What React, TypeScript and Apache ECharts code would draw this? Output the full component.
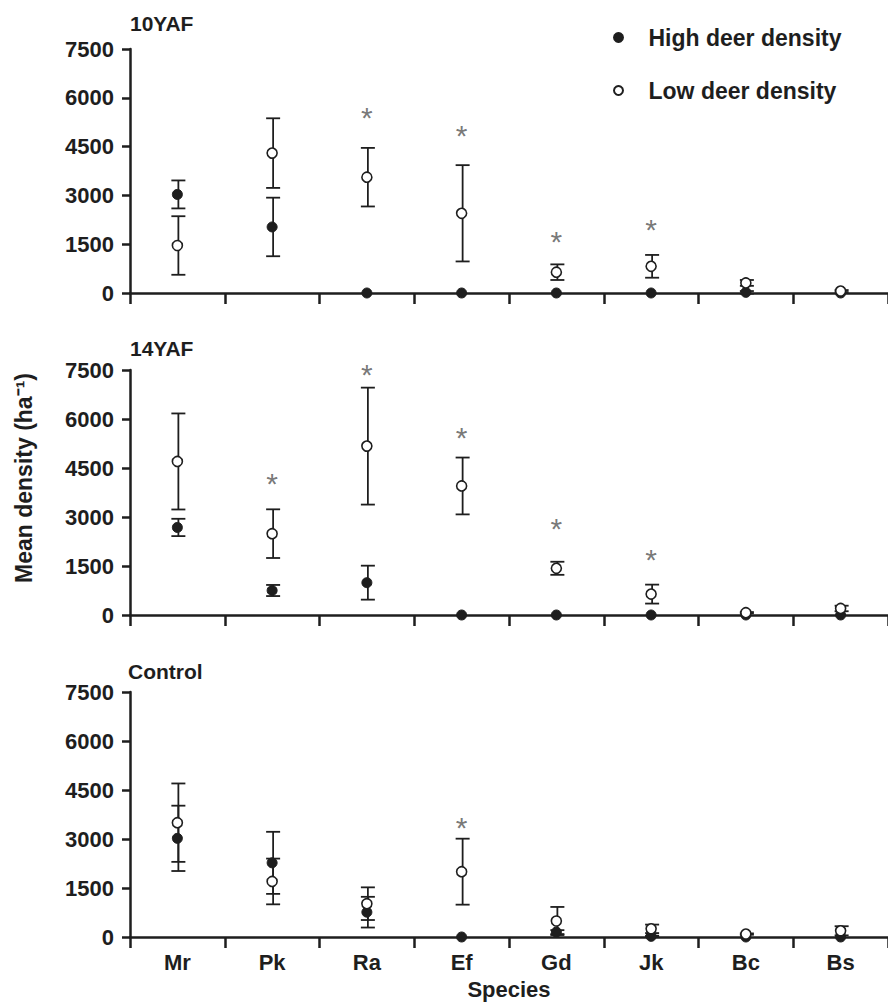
import React, { useEffect, useRef } from 'react';
import * as echarts from 'echarts';

const categories = ['Mr', 'Pk', 'Ra', 'Ef', 'Gd', 'Jk', 'Bc', 'Bs'];
const panelTitles = ['10YAF', '14YAF', 'Control'];
const yMin = 0;
const yMax = 7500;
const yInterval = 1500;

// 10 years after fencing
const yaf10High = [3030, 2030, 0, 0, 0, 0, 20, 0];
const yaf10HighErr = [430, 900, 0, 0, 0, 0, 40, 0];
const yaf10Low = [1460, 4300, 3560, 2450, 640, 820, 310, 60];
const yaf10LowErr = [900, 1070, 900, 1480, 240, 350, 90, 30];
const yaf10Star = [null, null, 5550, 5000, 1750, 2120, null, null];

// 14 years after fencing
const yaf14High = [2680, 750, 990, 0, 0, 0, 0, 0];
const yaf14HighErr = [265, 170, 520, 0, 0, 0, 0, 0];
const yaf14Low = [4700, 2490, 5170, 3950, 1430, 640, 70, 200];
const yaf14LowErr = [1470, 745, 1790, 870, 200, 290, 20, 85];
const yaf14Star = [null, 4180, 7530, 5580, 2800, 1860, null, null];

// Control
const controlHigh = [3020, 2270, 760, 0, 150, 20, 0, 0];
const controlHighErr = [1000, 950, 470, 0, 60, 20, 0, 0];
const controlLow = [3500, 1700, 1020, 2000, 490, 250, 90, 190];
const controlLowErr = [1200, 700, 500, 1010, 430, 130, 20, 140];
const controlStar = [null, null, null, 3500, null, null, null, null];

const highSeries = [yaf10High, yaf14High, controlHigh];
const highErrSeries = [yaf10HighErr, yaf14HighErr, controlHighErr];
const lowSeries = [yaf10Low, yaf14Low, controlLow];
const lowErrSeries = [yaf10LowErr, yaf14LowErr, controlLowErr];
const starSeries = [yaf10Star, yaf14Star, controlStar];

const FONT = '"Liberation Sans", Arial, Helvetica, sans-serif';
const INK = '#1e1e1e';

export default function App() {
  const ref = useRef<HTMLDivElement>(null);

  useEffect(() => {
    if (!ref.current) return;
    const chart = echarts.init(ref.current, undefined, { renderer: 'svg' });

    const gridTops = [49, 370, 692];
    const gridHeights = [244, 245, 245];

    const grids = gridTops.map((t, i) => ({
      left: 130,
      top: t,
      width: 766,
      height: gridHeights[i],
      containLabel: false,
    }));

    const xAxes = gridTops.map((_, i) => ({
      type: 'category',
      gridIndex: i,
      data: categories,
      boundaryGap: true,
      axisLine: { show: true, lineStyle: { color: INK, width: 2.5 } },
      axisTick: { show: true, length: 11, inside: false, lineStyle: { color: INK, width: 2.5 } },
      axisLabel: {
        show: i === 2,
        margin: 14,
        fontSize: 22,
        fontWeight: 'bold',
        fontFamily: FONT,
        color: INK,
      },
      splitLine: { show: false },
      name: i === 2 ? 'Species' : '',
      nameLocation: 'middle',
      nameGap: 41,
      nameTextStyle: { fontSize: 22, fontWeight: 'bold', fontFamily: FONT, color: INK },
    }));

    const yAxes = gridTops.map((_, i) => ({
      type: 'value',
      gridIndex: i,
      min: yMin,
      max: yMax,
      interval: yInterval,
      axisLine: { show: true, lineStyle: { color: INK, width: 2.5 } },
      axisTick: { show: true, length: 8, lineStyle: { color: INK, width: 2.5 } },
      axisLabel: {
        margin: 16,
        fontSize: 22,
        fontWeight: 'bold',
        fontFamily: FONT,
        color: INK,
        formatter: (v: number) => String(v),
      },
      splitLine: { show: false },
    }));

    const series: any[] = [];
    for (let i = 0; i < 3; i++) {
      const errData: number[][] = [];
      categories.forEach((_, k) => {
        const h = highSeries[i][k];
        const he = highErrSeries[i][k];
        if (he > 0) errData.push([k, h - he, h + he]);
        const l = lowSeries[i][k];
        const le = lowErrSeries[i][k];
        if (le > 0) errData.push([k, l - le, l + le]);
      });
      series.push({
        type: 'custom',
        name: 'err' + i,
        xAxisIndex: i,
        yAxisIndex: i,
        silent: true,
        z: 2,
        encode: { x: 0, y: [1, 2] },
        data: errData,
        renderItem: (params: any, api: any) => {
          const lo = api.coord([api.value(0), api.value(1)]);
          const hi = api.coord([api.value(0), api.value(2)]);
          const x = hi[0] + 1;
          const hw = 7;
          const st = { stroke: INK, lineWidth: 1.8 };
          return {
            type: 'group',
            children: [
              { type: 'line', shape: { x1: x, y1: hi[1], x2: x, y2: lo[1] }, style: st },
              { type: 'line', shape: { x1: x - hw, y1: hi[1], x2: x + hw, y2: hi[1] }, style: st },
              { type: 'line', shape: { x1: x - hw, y1: lo[1], x2: x + hw, y2: lo[1] }, style: st },
            ],
          };
        },
      });
      series.push({
        type: 'scatter',
        name: 'High deer density',
        xAxisIndex: i,
        yAxisIndex: i,
        z: 3,
        clip: false,
        symbol: 'circle',
        symbolSize: 10,
        itemStyle: { color: INK, borderColor: INK, borderWidth: 1, opacity: 1 },
        data: highSeries[i],
      });
      series.push({
        type: 'scatter',
        name: 'Low deer density',
        xAxisIndex: i,
        yAxisIndex: i,
        z: 4,
        clip: false,
        symbol: 'circle',
        symbolSize: 10,
        itemStyle: { color: '#ffffff', borderColor: INK, borderWidth: 1.6, opacity: 1 },
        data: lowSeries[i],
      });
      series.push({
        type: 'scatter',
        name: 'sig' + i,
        xAxisIndex: i,
        yAxisIndex: i,
        z: 5,
        clip: false,
        silent: true,
        symbol: 'circle',
        symbolSize: 1,
        itemStyle: { color: 'rgba(0,0,0,0)' },
        label: {
          show: true,
          position: 'inside',
          formatter: '*',
          fontSize: 30,
          fontFamily: FONT,
          color: '#555555',
          offset: [0, 5],
        },
        data: starSeries[i].map((v) => (v == null ? '-' : v)),
      });
    }

    const option: any = {
      animation: false,
      backgroundColor: '#ffffff',
      title: [
        { text: panelTitles[0], left: 130, top: 13, padding: 0, textStyle: { fontSize: 21, fontWeight: 'bold', fontFamily: FONT, color: INK } },
        { text: panelTitles[1], left: 130, top: 338, padding: 0, textStyle: { fontSize: 21, fontWeight: 'bold', fontFamily: FONT, color: INK } },
        { text: panelTitles[2], left: 128, top: 661, padding: 0, textStyle: { fontSize: 21, fontWeight: 'bold', fontFamily: FONT, color: INK } },
      ],
      legend: {
        orient: 'vertical',
        left: 613,
        top: 26,
        itemWidth: 30,
        itemHeight: 9,
        itemGap: 30,
        padding: 0,
        selectedMode: false,
        data: ['High deer density', 'Low deer density'],
        textStyle: { fontSize: 23, fontWeight: 'bold', fontFamily: FONT, color: INK, padding: [0, 0, 0, 10] },
      },
      graphic: [
        {
          type: 'text',
          x: 24,
          y: 478,
          rotation: Math.PI / 2,
          style: {
            text: 'Mean density (ha⁻¹)',
            align: 'center',
            verticalAlign: 'middle',
            fontSize: 23,
            fontWeight: 'bold',
            fontFamily: FONT,
            fill: INK,
          },
        },
      ],
      grid: grids,
      xAxis: xAxes,
      yAxis: yAxes,
      series,
    };

    chart.setOption(option);
    return () => chart.dispose();
  }, []);

  return (
    <div
      ref={ref}
      style={{ position: 'absolute', left: 0, top: 0, width: 888, height: 1005, background: '#fff' }}
    />
  );
}
